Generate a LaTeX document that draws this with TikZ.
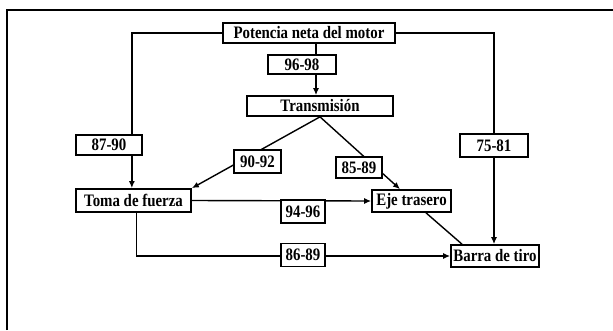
\documentclass[tikz,border=0pt]{standalone}
\usepackage{fontspec}
\setmainfont{Liberation Serif}[FakeStretch=0.85]
\usepackage{tikz}
\usetikzlibrary{positioning,arrows.meta,calc,backgrounds}
\tikzset{
  flowline/.style={line width=1.4pt},
  flowarrow/.style={-{Latex[length=7pt,width=6pt]}, line width=1.4pt},
  blocknode/.style={draw, line width=1.7pt, fill=white, inner sep=0pt, minimum height=21pt, align=center, font=\bfseries\fontsize{17.5}{19}\selectfont},
  numnode/.style={blocknode, minimum width=44pt, minimum height=23pt}
}

\begin{document}
\begin{tikzpicture}[x=1pt, y=-1pt, >=Latex]
  \useasboundingbox (0,0) rectangle (613,330);
  % marco
  \draw[line width=1.8pt] (7,330) -- (7,10) -- (613,10);

  \node[blocknode, minimum width=172pt, minimum height=20pt] (pot) at (309,33) {Potencia neta del motor};
  \node[blocknode, minimum width=68pt, minimum height=19pt] (n9698) at (302,64.5) {96-98};
  \node[blocknode, minimum width=146pt, minimum height=20pt] (trans) at (320,106) {Transmisión};
  \node[blocknode, minimum width=66pt, minimum height=20pt] (n8790) at (109,145) {87-90};
  \node[blocknode, minimum width=68pt, minimum height=23pt] (n7581) at (494,145.5) {75-81};
  \node[numnode, minimum width=47pt] (n9092) at (257.5,161.5) {90-92};
  \node[numnode, minimum width=46pt, minimum height=21pt] (n8589) at (359,167.5) {85-89};
  \node[blocknode, minimum width=115pt, minimum height=23pt] (toma) at (133.5,200.5) {Toma de fuerza};
  \node[blocknode, minimum width=79pt, minimum height=22pt] (eje) at (411.5,201) {Eje trasero};
  \node[numnode] (n9496) at (303,211.5) {94-96};
  \node[numnode] (n8689) at (303,255) {86-89};
  \node[blocknode, minimum width=88pt, minimum height=22pt] (barra) at (495,256) {Barra de tiro};

  % conexiones
  \begin{scope}[on background layer]
    \draw[flowline] (pot.west) -| ([xshift=-11pt]n8790.north east);
    \draw[flowarrow] ([xshift=-11pt]n8790.south east) -- ([xshift=-11pt]n8790.south east |- toma.north);
    \draw[flowline] ([xshift=7pt]pot.south) -- ([xshift=7pt]pot.south |- n9698.north);
    \draw[flowarrow] ([xshift=7pt]pot.south |- n9698.south) -- ([xshift=7pt]pot.south |- trans.north);
    \draw[flowline] (pot.east) -| (n7581.north);
    \draw[flowarrow] (n7581.south) -- (n7581.south |- barra.north);
    \draw[flowarrow] (trans.south) -- (toma.north east);
    \draw[flowarrow] (trans.south) -- ([xshift=-11.5pt]eje.north);
    \draw[flowarrow] (toma.east) -- (eje.west);
    \draw[flowarrow] ([xshift=3pt]toma.south) |- (barra.west);
    \draw[flowline] ([xshift=14.5pt]eje.south) -- ([xshift=-33pt]barra.north);
  \end{scope}
\end{tikzpicture}
\end{document}
